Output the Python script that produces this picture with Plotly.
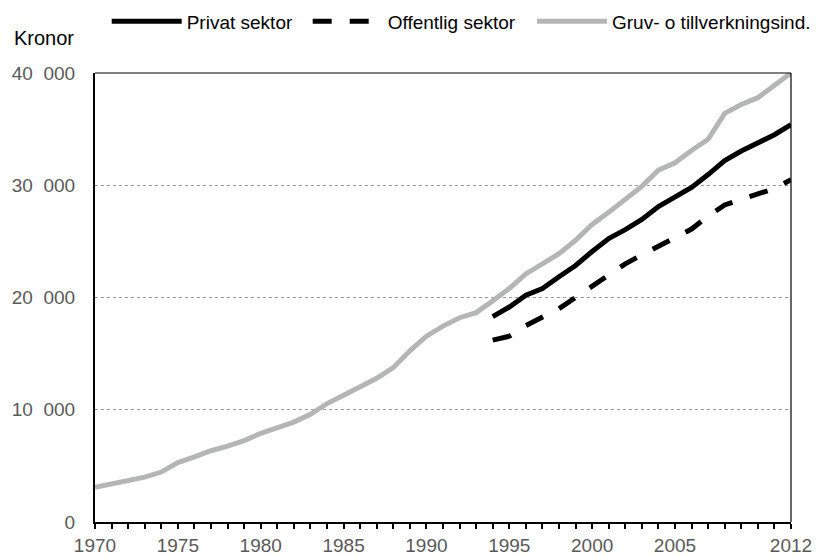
import plotly.graph_objects as go

years_all = list(range(1970, 2013))
years_sector = list(range(1994, 2013))

gruv = [3100, 3400, 3700, 4000, 4450, 5300, 5800, 6350, 6750, 7250,
        7900, 8400, 8900, 9600, 10550, 11300, 12050, 12800, 13750, 15250,
        16550, 17450, 18200, 18650, 19700, 20800, 22100, 23000, 23900, 25100,
        26500, 27600, 28700, 29900, 31350, 32000, 33100, 34100, 36400, 37200,
        37800, 38900, 40000]

privat = [18300, 19150, 20200, 20800, 21850, 22850, 24100, 25250, 26050, 26950,
          28100, 28950, 29800, 30950, 32200, 33050, 33800, 34500, 35400]

offentlig = [16200, 16550, 17500, 18300, 19000, 20000, 21000, 22000, 23000, 23800,
             24550, 25250, 26100, 27250, 28250, 28750, 29200, 29700, 30500]

x_tick_vals = [1970, 1975, 1980, 1985, 1990, 1995, 2000, 2005, 2012]
x_tick_text = ["1970", "1975", "1980", "1985", "1990", "1995", "2000", "2005", "2012"]
y_tick_vals = [0, 10000, 20000, 30000, 40000]

FONT = "Liberation Sans, Arial, sans-serif"
GRAY = "#b4b6b5"
FS = 19

fig = go.Figure()
fig.add_trace(go.Scatter(x=years_sector, y=privat, mode="lines", name="Privat sektor",
                         legend="legend", legendwidth=116,
                         line=dict(color="black", width=5)))
fig.add_trace(go.Scatter(x=years_sector, y=offentlig, mode="lines", name="Offentlig sektor",
                         legend="legend",
                         line=dict(color="black", width=5, dash="19px,18px")))
fig.add_trace(go.Scatter(x=years_all, y=gruv, mode="lines", name="Gruv- o tillverkningsind.",
                         legend="legend2",
                         line=dict(color=GRAY, width=5)))

legend_common = dict(orientation="h", xref="container", yref="container",
                     xanchor="left", y=1 - 21.5 / 557, yanchor="middle",
                     itemwidth=70, font=dict(family=FONT, size=FS, color="black"),
                     bgcolor="rgba(0,0,0,0)", traceorder="normal")

fig.update_layout(
    template="none",
    width=817, height=557,
    margin=dict(l=95, r=26, t=73, b=35),
    paper_bgcolor="white", plot_bgcolor="white",
    separators=",\u2007",
    font=dict(family=FONT, size=FS, color="black"),
    showlegend=True,
    legend=dict(x=106.7 / 817, **legend_common),
    legend2=dict(x=532 / 817, **legend_common),
    xaxis=dict(range=[1970, 2012], tickvals=x_tick_vals, ticktext=x_tick_text,
               ticks="outside", ticklen=5, tickwidth=1.5, tickcolor="black",
               minor=dict(dtick=1, tick0=1970, ticks="outside", ticklen=5, tickwidth=1.5,
                          tickcolor="black", showgrid=False),
               showline=True, linecolor="black", linewidth=2, showgrid=False, zeroline=False,
               tickfont=dict(family=FONT, size=FS, color="#595959")),
    yaxis=dict(range=[0, 40000], tickvals=y_tick_vals, tickformat=",d",
               ticks="", showline=True, linecolor="black", linewidth=2,
               showgrid=True, gridcolor="#999999", griddash="dot", gridwidth=1,
               zeroline=False, ticklabelstandoff=14,
               tickfont=dict(family=FONT, size=FS, color="#595959")),
    annotations=[dict(text="Kronor", xref="paper", yref="paper", x=-0.119, y=1.078,
                      xanchor="left", yanchor="middle", showarrow=False,
                      font=dict(family=FONT, size=20, color="black"))],
    shapes=[
        dict(type="line", xref="paper", yref="paper", x0=0, x1=1, y0=1, y1=1,
             line=dict(color="black", width=1.2)),
        dict(type="line", xref="paper", yref="paper", x0=1, x1=1, y0=0, y1=1,
             line=dict(color="black", width=1.2)),
    ],
)

fig.write_html("out.html", config={"displayModeBar": False},
               post_script="document.body.style.margin='0';")
